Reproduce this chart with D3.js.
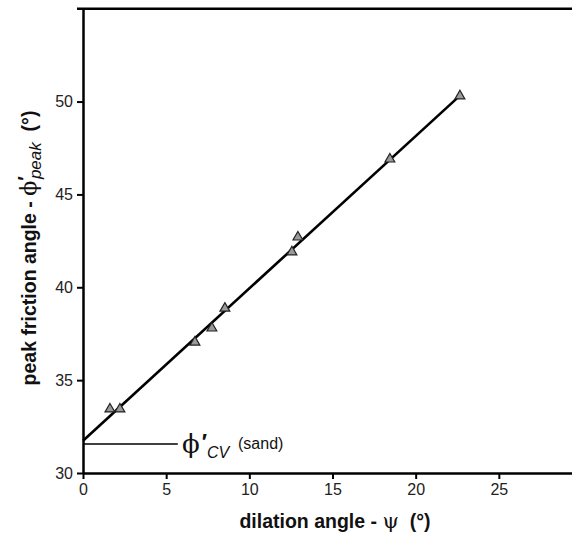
<!DOCTYPE html>
<html><head><meta charset="utf-8">
<script src="https://cdn.jsdelivr.net/npm/d3@7"></script>
<style>body{margin:0;background:#fff}svg{display:block}</style>
</head><body><svg id="c" width="572" height="534"></svg>
<script>
const dilation = [1.62, 2.22, 6.73, 7.75, 8.53, 12.56, 12.92, 18.45, 22.66];
const peakFriction = [33.44, 33.44, 37.04, 37.8, 38.87, 41.9, 42.7, 46.9, 50.3];
const fitLine = [[0, 31.74], [22.66, 50.32]];
const phiCv = 31.56;
const phiCvExtent = [0, 5.7];
const xTicks = [0, 5, 10, 15, 20, 25];
const yTicks = [30, 35, 40, 45, 50];

const svg = d3.select('#c');
const x = d3.scaleLinear().domain([0, 30]).range([83, 582]);
const y = d3.scaleLinear().domain([30, 55]).range([473, 8.7]);
const font = 'Liberation Sans, Arial, sans-serif';

// top frame line
svg.append('line').attr('x1', 77).attr('x2', 572).attr('y1', y(55)).attr('y2', y(55))
  .attr('stroke', '#000').attr('stroke-width', 2.5);

const xa = svg.append('g').attr('transform', `translate(0,${y(30)})`)
  .call(d3.axisBottom(x).tickValues(xTicks).tickSize(6).tickPadding(5).tickSizeOuter(0));
const ya = svg.append('g').attr('transform', `translate(${x(0)},0)`)
  .call(d3.axisLeft(y).tickValues(yTicks).tickSize(6).tickPadding(4).tickSizeOuter(0));
[xa, ya].forEach(a => {
  a.select('.domain').attr('stroke', '#000').attr('stroke-width', 2.5);
  a.selectAll('.tick line').attr('stroke', '#000').attr('stroke-width', 2);
  a.selectAll('text').attr('font-family', font).attr('font-size', 16).attr('fill', '#222');
});

// phi'cv line
svg.append('line').attr('x1', x(phiCvExtent[0])).attr('x2', x(phiCvExtent[1]))
  .attr('y1', y(phiCv)).attr('y2', y(phiCv)).attr('stroke', '#000').attr('stroke-width', 1.5);

// fit line
svg.append('path').datum(fitLine)
  .attr('d', d3.line().x(d => x(d[0])).y(d => y(d[1])))
  .attr('stroke', '#000').attr('stroke-width', 2.6).attr('fill', 'none');

// points
const tri = d3.symbol().type(d3.symbolTriangle).size(42);
svg.selectAll('.pt').data(dilation.map((d, i) => [d, peakFriction[i]])).enter()
  .append('path').attr('class', 'pt').attr('d', tri)
  .attr('transform', d => `translate(${x(d[0])},${y(d[1])})`)
  .attr('fill', '#9a9a9a').attr('stroke', '#222').attr('stroke-width', 1.2);

// phi'cv annotation
const ann = svg.append('text').attr('x', 182).attr('y', y(phiCv) + 9)
  .attr('font-family', font).attr('fill', '#111');
ann.append('tspan').attr('font-family', 'DejaVu Serif, serif').attr('font-size', 26).text('ϕ');
ann.append('tspan').attr('font-size', 22).attr('font-weight', 'bold').attr('dx', 2).attr('dy', -4).text('\u2032');
ann.append('tspan').attr('font-size', 16).attr('font-style', 'italic').attr('dx', 0).attr('dy', 9).text('CV');
svg.append('text').attr('x', 238).attr('y', y(phiCv) + 5)
  .attr('font-family', font).attr('font-size', 16).attr('fill', '#111').text('(sand)');

// x label
const xl = svg.append('text').attr('x', 335).attr('y', 528).attr('text-anchor', 'middle')
  .attr('font-family', font).attr('font-size', 19.5).attr('font-weight', 'bold').attr('fill', '#111');
xl.append('tspan').text('dilation angle - ');
xl.append('tspan').attr('font-family', 'DejaVu Serif, serif').attr('font-weight', 'normal').attr('font-size', 21).text('ψ');
xl.append('tspan').text('\u00a0 (°)');

// y label
const yl = svg.append('text').attr('transform', 'translate(36,248) rotate(-90)')
  .attr('text-anchor', 'middle')
  .attr('font-family', font).attr('font-size', 19.5).attr('font-weight', 'bold').attr('fill', '#111');
yl.append('tspan').text('peak friction angle - ');
yl.append('tspan').attr('font-family', 'DejaVu Serif, serif').attr('font-weight', 'normal').attr('font-size', 22).text('ϕ');
yl.append('tspan').attr('dy', -4).text('\u2032');
yl.append('tspan').attr('font-style', 'italic').attr('font-weight', 'normal').attr('dy', 9).attr('dx', -3).attr('font-size', 17).text('peak');
yl.append('tspan').attr('dy', -5).text('\u00a0 (°)');
</script></body></html>
